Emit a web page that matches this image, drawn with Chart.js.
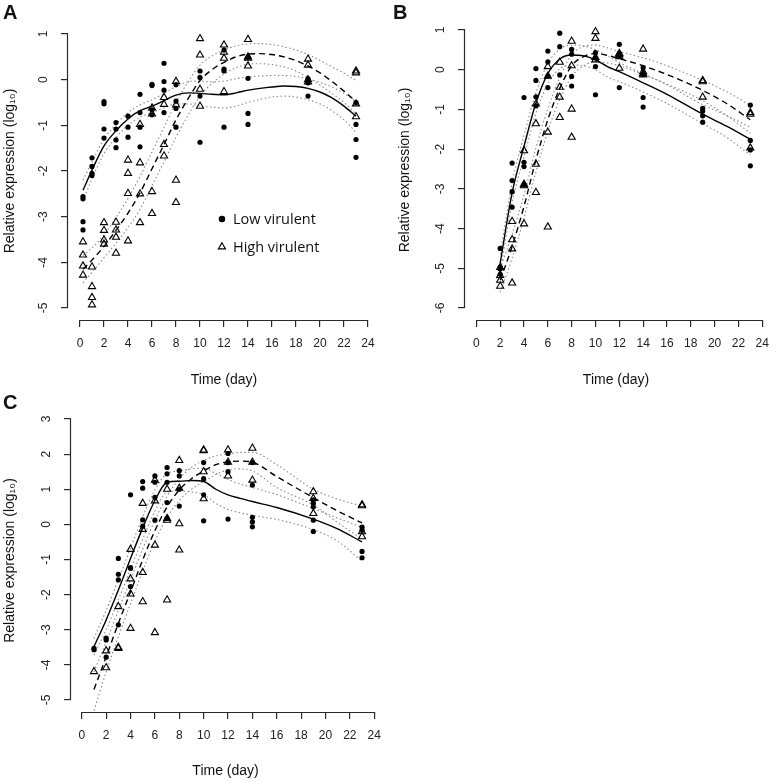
<!DOCTYPE html>
<html>
<head>
<meta charset="utf-8">
<script src="https://cdn.jsdelivr.net/npm/chart.js@4.4.0/dist/chart.umd.min.js"></script>
<style>
  body { margin: 0; background: #fff; }
  #fig { position: relative; width: 778px; height: 781px; font-family: "Liberation Sans", Arial, sans-serif; }
  .panel { position: absolute; }
  .tag { position: absolute; font-weight: bold; font-size: 20px; line-height: 1; color: #111; }
</style>
</head>
<body>
<div id="fig">
  <div class="panel" style="left:0;top:0;width:390px;height:390px"><canvas id="chartA"></canvas></div>
  <div class="panel" style="left:390px;top:0;width:388px;height:390px"><canvas id="chartB"></canvas></div>
  <div class="panel" style="left:0;top:390px;width:390px;height:391px"><canvas id="chartC"></canvas></div>
  <div class="tag" style="left:3px;top:2px">A</div>
  <div class="tag" style="left:393px;top:2px">B</div>
  <div class="tag" style="left:3px;top:392px">C</div>
</div>
<script>
// ---- data (log10 relative expression) ----
const xTicks = [0, 2, 4, 6, 8, 10, 12, 14, 16, 18, 20, 22, 24];

// Panel A
const daysA = [0.25, 1, 2, 3, 4, 5, 6, 7, 8, 10, 12, 14, 19, 23];
const lowA = [
  [-2.56, -2.61, -3.11, -3.29], [-1.71, -1.9, -2.05, -2.1], [-0.48, -0.53, -1.08, -1.28],
  [-0.94, -1.08, -1.32, -1.49], [-0.8, -1.04, -1.26], [-0.32, -0.72, -1.04, -1.47],
  [-0.1, -0.13, -0.66, -0.77], [0.36, -0.04, -0.23, -0.72], [-0.11, -0.47, -0.63, -1.04],
  [0.19, 0.05, -0.36, -1.37], [0.65, 0.23, 0.19, -1.04], [0.49, 0.03, -0.74, -0.98],
  [0.02, -0.03, -0.07, -0.36], [-0.5, -0.98, -1.31, -1.7]
];
const highA = [
  [-3.55, -3.84, -4.08, -4.28], [-4.1, -4.53, -4.77, -4.93], [-3.13, -3.3, -3.51, -3.6],
  [-3.12, -3.29, -3.45, -3.8], [-1.76, -2.05, -2.49, -3.53], [-0.98, -1.82, -2.5, -3.13],
  [-0.62, -0.75, -2.45, -2.93], [-0.39, -0.54, -1.42, -1.67], [-0.04, -0.55, -2.2, -2.69],
  [0.9, 0.54, -0.21, -0.58], [0.76, 0.6, 0.47, -0.26], [0.88, 0.5, 0.47, 0.3],
  [0.45, 0.32, 0.0, -0.05], [0.19, 0.15, -0.53, -0.81]
];
const fitDaysA = [0.25, 1, 2, 3, 4, 5, 6, 7, 8, 9, 10, 11, 12, 13, 14, 15, 16, 17, 18, 19, 20, 21, 22, 23];
const fitLowA = [-2.42, -1.98, -1.45, -1.12, -0.86, -0.68, -0.58, -0.46, -0.34, -0.29, -0.3, -0.32, -0.33, -0.29, -0.23, -0.19, -0.16, -0.14, -0.15, -0.19, -0.27, -0.4, -0.58, -0.8];
const lowUpA = [-2.2, -1.8, -1.3, -0.98, -0.72, -0.55, -0.44, -0.3, -0.15, -0.05, -0.03, -0.05, -0.03, 0.02, 0.06, 0.08, 0.09, 0.09, 0.07, 0.02, -0.06, -0.16, -0.3, -0.48];
const lowDnA = [-2.65, -2.17, -1.62, -1.27, -1.0, -0.82, -0.72, -0.62, -0.53, -0.53, -0.58, -0.6, -0.62, -0.58, -0.5, -0.43, -0.38, -0.36, -0.38, -0.44, -0.53, -0.68, -0.88, -1.15];
const fitHighA = [-4.15, -3.95, -3.65, -3.3, -2.92, -2.48, -1.95, -1.42, -0.88, -0.42, -0.02, 0.22, 0.38, 0.5, 0.56, 0.57, 0.55, 0.5, 0.42, 0.3, 0.15, -0.04, -0.25, -0.48];
const highUpA = [-3.85, -3.68, -3.4, -3.02, -2.6, -2.12, -1.58, -1.04, -0.5, -0.05, 0.32, 0.52, 0.65, 0.74, 0.78, 0.79, 0.77, 0.72, 0.65, 0.55, 0.42, 0.28, 0.14, -0.02];
const highDnA = [-4.45, -4.22, -3.9, -3.58, -3.24, -2.84, -2.32, -1.8, -1.26, -0.78, -0.36, -0.08, 0.12, 0.26, 0.34, 0.35, 0.33, 0.28, 0.19, 0.05, -0.12, -0.3, -0.5, -0.75];
const yTicksA = [-5, -4, -3, -2, -1, 0, 1];

// Panel B
const daysB = [2, 3, 4, 5, 6, 7, 8, 10, 12, 14, 19, 23];
const lowB = [
  [-4.5, -4.97, -5.02, -5.15], [-2.35, -2.79, -3.07, -3.46], [-0.7, -2.33, -2.44, -2.9],
  [0.03, -0.27, -0.68, -0.91], [0.47, 0.2, -0.16, -0.45], [0.92, 0.58, -0.13],
  [0.51, 0.39, -0.17, -0.41], [0.43, 0.3, 0.08, -0.63], [0.64, 0.41, 0.35, -0.45],
  [0.05, -0.12, -0.7, -0.94], [-0.97, -1.04, -1.16, -1.32], [-0.89, -1.78, -2.02, -2.42]
];
const highB = [
  [-4.98, -5.18, -5.3, -5.45], [-3.82, -4.28, -4.51, -5.37], [-2.04, -2.88, -2.92, -3.88],
  [-0.86, -1.36, -2.38, -3.09], [0.08, -0.16, -1.57, -3.96], [0.19, -0.44, -0.69, -1.2],
  [0.72, 0.1, -0.99, -1.7], [0.96, 0.79, 0.31, 0.25], [0.41, 0.38, 0.33, 0.04],
  [0.52, -0.05, -0.1, -0.13], [-0.27, -0.3, -0.69], [-1.08, -1.12, -1.97]
];
const fitDaysB = [2, 3, 4, 5, 6, 7, 8, 9, 10, 11, 12, 14, 16, 19, 21, 23];
const fitLowB = [-4.87, -3.1, -1.93, -0.84, -0.1, 0.27, 0.37, 0.35, 0.25, 0.08, -0.05, -0.33, -0.62, -1.12, -1.42, -1.75];
const lowUpB = [-4.65, -2.85, -1.65, -0.58, 0.15, 0.52, 0.62, 0.6, 0.5, 0.35, 0.18, -0.1, -0.38, -0.88, -1.15, -1.45];
const lowDnB = [-5.1, -3.35, -2.2, -1.1, -0.35, 0.02, 0.12, 0.1, 0.0, -0.18, -0.3, -0.56, -0.85, -1.36, -1.7, -2.15];
const fitHighB = [-5.3, -4.45, -3.44, -2.27, -1.26, -0.47, 0.1, 0.33, 0.41, 0.36, 0.28, 0.1, -0.12, -0.52, -0.85, -1.26];
const highUpB = [-5.0, -4.15, -3.15, -1.97, -0.98, -0.2, 0.38, 0.58, 0.62, 0.55, 0.46, 0.3, 0.1, -0.27, -0.55, -0.9];
const highDnB = [-5.6, -4.75, -3.73, -2.57, -1.55, -0.75, -0.18, 0.1, 0.2, 0.17, 0.1, -0.12, -0.36, -0.78, -1.15, -1.6];
const yTicksB = [-6, -5, -4, -3, -2, -1, 0, 1];

// Panel C
const daysC = [1, 2, 3, 4, 5, 6, 7, 8, 10, 12, 14, 19, 23];
const lowC = [
  [-3.53, -3.57], [-3.24, -3.29, -3.78], [-0.97, -1.42, -1.58, -2.86],
  [0.84, -1.23, -1.25, -1.77], [1.22, 1.03, 0.13, -0.05], [1.38, 1.2, 0.77, 0.12],
  [1.62, 1.44, 1.2, 0.62, 0.17], [1.53, 1.38, 1.0, 0.52], [1.76, 1.3, 0.84, 0.1],
  [2.02, 1.76, 1.5, 0.15], [1.76, 1.12, 0.2, 0.07, -0.07], [0.69, 0.6, 0.5, 0.12, -0.2],
  [-0.08, -0.17, -0.77, -0.95]
];
const highC = [
  [-4.19], [-3.6, -4.08], [-2.34, -3.5, -3.53],
  [-0.71, -1.55, -1.98, -2.96], [0.6, -0.14, -1.37, -2.2], [1.26, 0.67, -0.59, -3.08],
  [1.0, 0.17, 0.12, -2.15], [1.82, 1.03, 0.02, -0.73], [2.12, 2.1, 1.5, 0.73],
  [2.12, 1.77, 1.38], [2.17, 1.77, 1.26], [0.93, 0.74, 0.31],
  [0.56, 0.53, -0.21, -0.35]
];
const fitDaysC = [1, 2, 3, 4, 5, 6, 7, 8, 9, 10, 11, 12, 13, 14, 16, 19, 21, 23];
const fitLowC = [-3.48, -2.72, -1.87, -0.97, -0.1, 0.68, 1.2, 1.23, 1.25, 1.22, 1.0, 0.84, 0.74, 0.65, 0.48, 0.15, -0.13, -0.5];
const lowUpC = [-3.25, -2.45, -1.58, -0.68, 0.22, 0.98, 1.45, 1.52, 1.58, 1.6, 1.45, 1.28, 1.15, 1.05, 0.85, 0.45, 0.18, -0.08];
const lowDnC = [-3.72, -3.0, -2.15, -1.27, -0.42, 0.38, 0.92, 0.95, 0.92, 0.85, 0.6, 0.42, 0.33, 0.26, 0.14, -0.15, -0.48, -1.05];
const fitHighC = [-4.7, -3.77, -2.82, -1.92, -1.01, -0.18, 0.5, 0.98, 1.3, 1.52, 1.7, 1.78, 1.8, 1.77, 1.36, 0.76, 0.38, 0.04];
const highUpC = [-4.2, -3.35, -2.45, -1.58, -0.7, 0.12, 0.8, 1.3, 1.62, 1.82, 1.95, 2.0, 2.05, 2.05, 1.7, 1.0, 0.72, 0.52];
const highDnC = [-5.3, -4.2, -3.2, -2.26, -1.32, -0.48, 0.2, 0.68, 1.0, 1.22, 1.42, 1.55, 1.58, 1.52, 1.05, 0.55, 0.05, -0.42];
const yTicksC = [-5, -4, -3, -2, -1, 0, 1, 2, 3];

const FONT = '"Liberation Sans", Arial, sans-serif';

// replicate groups -> scatter points
function toPoints(days, groups) {
  const pts = [];
  days.forEach((d, i) => groups[i].forEach(v => pts.push({ x: d, y: v })));
  return pts;
}
function toLine(days, vals) {
  return days.map((d, i) => ({ x: d, y: vals[i] }));
}

// R-style detached axes: axis lines only span first..last tick, y labels rotated
const rAxes = {
  id: 'rAxes',
  afterDraw(chart) {
    const { ctx, chartArea, scales: { x, y } } = chart;
    const xt = x.ticks, yt = y.ticks;
    ctx.save();
    ctx.strokeStyle = '#2a2a2a';
    ctx.lineWidth = 1.2;
    ctx.beginPath();
    const by = Math.round(chartArea.bottom) + 0.5;
    ctx.moveTo(x.getPixelForValue(xt[0].value), by);
    ctx.lineTo(x.getPixelForValue(xt[xt.length - 1].value), by);
    const lx = Math.round(chartArea.left) - 0.5;
    ctx.moveTo(lx, y.getPixelForValue(yt[0].value));
    ctx.lineTo(lx, y.getPixelForValue(yt[yt.length - 1].value));
    ctx.stroke();
    ctx.fillStyle = '#222';
    ctx.font = '12px ' + FONT;
    ctx.textAlign = 'center';
    ctx.textBaseline = 'middle';
    yt.forEach(t => {
      ctx.save();
      ctx.translate(chartArea.left - 24, y.getPixelForValue(t.value));
      ctx.rotate(-Math.PI / 2);
      ctx.fillText(String(t.value), 0, 0);
      ctx.restore();
    });
    ctx.restore();
  }
};

// in-plot legend of panel A (positioned in data units)
const rLegend = {
  id: 'rLegend',
  afterDraw(chart, args, opts) {
    if (!opts.show) return;
    const { ctx, scales: { x, y } } = chart;
    const px = x.getPixelForValue(11.83);
    const rows = [
      { y: -3.05, text: 'Low virulent', style: 'circle', r: 2.7, fill: '#000' },
      { y: -3.66, text: 'High virulent', style: 'triangle', r: 4.1, fill: 'rgba(0,0,0,0)' }
    ];
    ctx.save();
    rows.forEach(row => {
      const py = y.getPixelForValue(row.y);
      ctx.fillStyle = row.fill;
      ctx.strokeStyle = '#000';
      ctx.lineWidth = 1.1;
      Chart.helpers.drawPoint(ctx, { pointStyle: row.style, radius: row.r, borderWidth: 1.1 }, px, py);
      ctx.fillStyle = '#111';
      ctx.font = '14.5px "Open Sans", sans-serif';
      ctx.textAlign = 'left';
      ctx.textBaseline = 'middle';
      ctx.fillText(row.text, px + 11, py + 1);
    });
    ctx.restore();
  }
};

function makePanel(id, d, L) {
  const band = { type: 'scatter', showLine: true, pointRadius: 0, borderColor: '#8a8a8a', borderWidth: 1.1,
                 borderDash: [1.5, 2.5], cubicInterpolationMode: 'monotone', fill: false };
  new Chart(document.getElementById(id), {
    type: 'scatter',
    data: {
      datasets: [
        { data: toPoints(d.days, d.high), pointStyle: 'triangle', pointRadius: 4.1, pointBorderWidth: 1.1,
          pointBackgroundColor: 'rgba(0,0,0,0)', pointBorderColor: '#000' },
        { data: toPoints(d.days, d.low), pointStyle: 'circle', pointRadius: 2.6, pointBorderWidth: 0,
          pointBackgroundColor: '#000', pointBorderColor: '#000' },
        { data: toLine(d.fitDays, d.fitLow), showLine: true, pointRadius: 0, borderColor: '#000',
          borderWidth: 1.4, cubicInterpolationMode: 'monotone' },
        { data: toLine(d.fitDays, d.fitHigh), showLine: true, pointRadius: 0, borderColor: '#000',
          borderWidth: 1.4, borderDash: [6, 4], cubicInterpolationMode: 'monotone' },
        Object.assign({ data: toLine(d.fitDays, d.lowUp) }, band),
        Object.assign({ data: toLine(d.fitDays, d.lowDn) }, band),
        Object.assign({ data: toLine(d.fitDays, d.highUp) }, band),
        Object.assign({ data: toLine(d.fitDays, d.highDn) }, band)
      ]
    },
    options: {
      responsive: true,
      maintainAspectRatio: false,
      animation: false,
      events: [],
      layout: { padding: { top: L.top, right: L.right, left: 0, bottom: 0 } },
      plugins: {
        legend: { display: false },
        tooltip: { enabled: false },
        rLegend: { show: !!L.legend }
      },
      scales: {
        x: {
          type: 'linear', min: L.xMin, max: L.xMax,
          afterBuildTicks: s => { s.ticks = xTicks.map(v => ({ value: v })); },
          afterFit: s => { s.height = L.xAxisH; },
          border: { display: false },
          grid: { drawOnChartArea: false, drawTicks: true, tickLength: 7, color: '#2a2a2a', lineWidth: 1.2 },
          ticks: { color: '#222', font: { size: 12, family: FONT }, padding: 9, maxRotation: 0, autoSkip: false },
          title: { display: true, text: 'Time (day)', color: '#111', font: { size: 14, family: FONT },
                   padding: { top: 0, bottom: L.xTitlePad } }
        },
        y: {
          type: 'linear', min: L.yMin, max: L.yMax,
          afterBuildTicks: s => { s.ticks = d.yTicks.map(v => ({ value: v })); },
          afterFit: s => { s.width = L.left; },
          border: { display: false },
          grid: { drawOnChartArea: false, drawTicks: true, tickLength: 7, color: '#2a2a2a', lineWidth: 1.2 },
          ticks: { display: false },
          title: { display: true, text: 'Relative expression (log\u2081\u2080)', color: '#111',
                   font: { size: 14, family: FONT }, padding: { top: L.yTitlePad, bottom: 0 } }
        }
      }
    },
    plugins: [rAxes, rLegend]
  });
}

makePanel('chartA',
  { days: daysA, low: lowA, high: highA, fitDays: fitDaysA, fitLow: fitLowA, lowUp: lowUpA, lowDn: lowDnA,
    fitHigh: fitHighA, highUp: highUpA, highDn: highDnA, yTicks: yTicksA },
  { left: 68, top: 22, right: 10, xAxisH: 70, xMin: -1, xMax: 25, yMin: -5.263, yMax: 1.263,
    xTitlePad: 1, yTitlePad: 2, legend: true });

makePanel('chartB',
  { days: daysB, low: lowB, high: highB, fitDays: fitDaysB, fitLow: fitLowB, lowUp: lowUpB, lowDn: lowDnB,
    fitHigh: fitHighB, highUp: highUpB, highDn: highDnB, yTicks: yTicksB },
  { left: 75, top: 20, right: 2, xAxisH: 70, xMin: -0.954, xMax: 24.41, yMin: -6.302, yMax: 1.252,
    xTitlePad: 1, yTitlePad: 7, legend: false });

makePanel('chartC',
  { days: daysC, low: lowC, high: highC, fitDays: fitDaysC, fitLow: fitLowC, lowUp: lowUpC, lowDn: lowDnC,
    fitHigh: fitHighC, highUp: highUpC, highDn: highDnC, yTicks: yTicksC },
  { left: 71, top: 19, right: 4, xAxisH: 69, xMin: -0.886, xMax: 24.48, yMin: -5.342, yMax: 3.285,
    xTitlePad: 1, yTitlePad: 2, legend: false });
</script>
</body>
</html>
